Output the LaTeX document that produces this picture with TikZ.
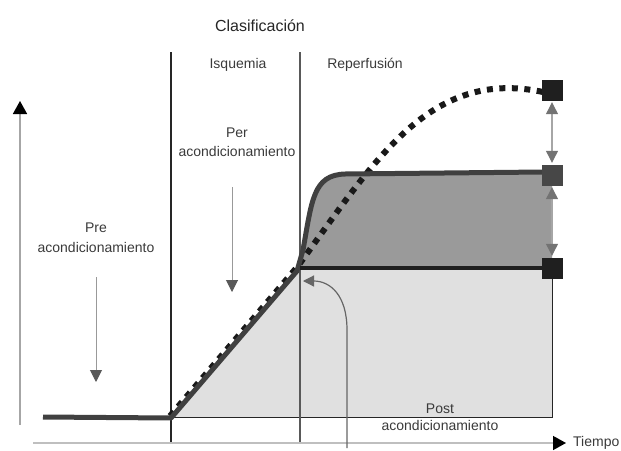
\documentclass[tikz,border=0pt]{standalone}
\usepackage{fontspec}
\setmainfont{Liberation Sans}
\usetikzlibrary{arrows.meta}
\definecolor{lightfill}{HTML}{E0E0E0}
\definecolor{midfill}{HTML}{9A9A9A}
\definecolor{curvegray}{HTML}{404040}
\definecolor{textgray}{HTML}{3A3A3A}
\tikzset{
	lbl/.style={anchor=base, inner sep=0pt, text=textgray, font=\fontsize{14}{16}\selectfont},
	titlelbl/.style={anchor=base, inner sep=0pt, text=black!85, font=\fontsize{16}{18}\selectfont},
	sq/.style={minimum size=21pt, inner sep=0pt, draw=none},
	downarrow/.style={line width=1pt, black!40, -{Triangle[width=12pt,length=12pt,color=black!65]}},
	dblarrow/.style={line width=1.2pt, black!35, shorten <=1.5pt, shorten >=1.5pt,
		{Triangle[width=12pt,length=12pt,color=black!55]}-{Triangle[width=12pt,length=12pt,color=black!55]}},
	thickcurve/.style={line width=5pt, curvegray, line join=round},
	dotcurve/.style={line width=6pt, black!90, dash pattern=on 6pt off 6.5pt}
}

\begin{document}
\begin{tikzpicture}[x=1pt, y=-1pt]
	%%%%% START %%%%%
	\useasboundingbox (0,0) rectangle (621,450);
	
	\fill[lightfill] (171,418) -- (300,268) -- (552,268) -- (552,417) -- cycle;
	\fill[midfill] (300,268) -- (303,250) .. controls (312,200) and (313,175) .. (345,174) -- (552,172) -- (552,268) -- cycle;
	\draw[line width=1pt, black!85] (552,268) -- (552,417) -- (171,417);
	
	\coordinate (ybot) at (20,425);
	\coordinate (ytop) at (20,101);
	\coordinate (xleft) at (33,443);
	\coordinate (xright) at (566,443);
	\draw[line width=1.5pt, black!35, -{Triangle[width=14pt,length=13pt,color=black]}] (ybot) -- (ytop);
	\draw[line width=1.5pt, black!25, -{Triangle[width=14pt,length=13pt,color=black]}] (xleft) -- (xright);
	
	\draw[line width=1.2pt, black!85] (171,52) -- (171,442);
	\draw[line width=1.5pt, black!65] (300,52) -- (300,442);
	
	\draw[dotcurve] (170,416) -- (298,266) .. controls (375,160) and (430,68) .. (543,92);
	\draw[thickcurve] (43,417) -- (171,418) -- (297,271) -- (303,250) .. controls (312,200) and (313,175) .. (345,174) -- (543,172);
	\draw[line width=4pt, black!88] (300,268) -- (543,268);
	
	\node[sq, fill=black!88] (sqtop) at (552,90) {};
	\node[sq, fill=black!72] (sqmid) at (552,175) {};
	\node[sq, fill=black!88] (sqbot) at (552,268) {};
	\draw[dblarrow] (sqtop) -- (sqmid);
	\draw[dblarrow] (sqmid) -- (sqbot);
	
	\node[titlelbl] (title) at (260,31) {Clasificación};
	\node[lbl] (isq) at (238,68) {Isquemia};
	\node[lbl] (reper) at (365,68) {Reperfusión};
	\node[lbl] (per) at (237,137) {Per};
	\node[lbl] (peracond) at (237,156) {acondicionamiento};
	\node[lbl] (pre) at (96,232) {Pre};
	\node[lbl] (preacond) at (96,252) {acondicionamiento};
	\node[lbl] (post) at (440,413) {Post};
	\node[lbl] (postacond) at (440,430) {acondicionamiento};
	\node[lbl, anchor=base west] (tiempo) at (573,446) {Tiempo};
	
	\coordinate (pretop) at (96,277);
	\coordinate (pretip) at (96,382);
	\coordinate (pertop) at (232,187);
	\coordinate (pertip) at (232,292);
	\draw[downarrow] (pretop) -- (pretip);
	\draw[downarrow] (pertop) -- (pertip);
	
	\coordinate (postfoot) at (347,448);
	\coordinate (posttip) at (303,281);
	\draw[line width=1.2pt, black!60, -{Triangle[width=11pt,length=11pt,color=black!60]}] (postfoot) -- (347,330) .. controls (347,295) and (330,281) .. (posttip);
	
	%%%%% END %%%%%
\end{tikzpicture}
\end{document}
